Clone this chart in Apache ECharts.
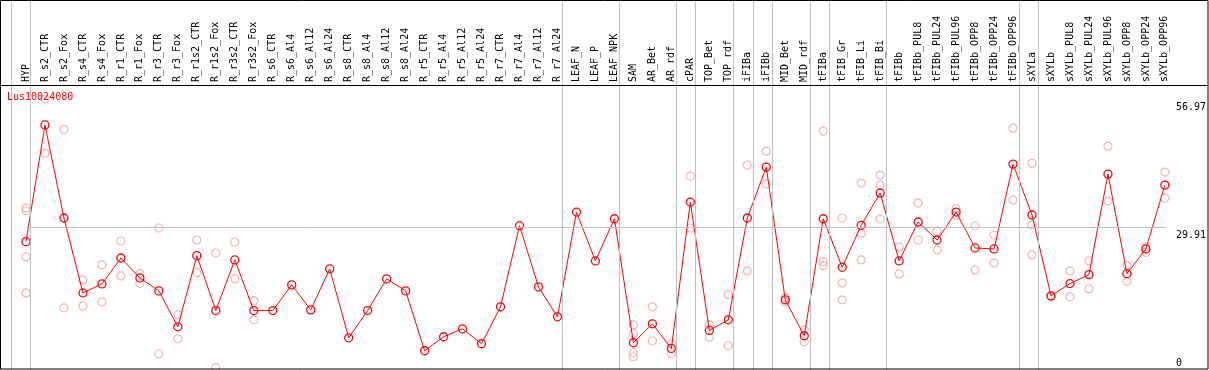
<!DOCTYPE html>
<html>
<head>
<meta charset="utf-8">
<script src="https://cdn.jsdelivr.net/npm/echarts@6/dist/echarts.min.js"></script>
<style>
  html, body { margin: 0; padding: 0; background: #fff; }
  #chart { width: 1209px; height: 370px; }
</style>
</head>
<body>
<div id="chart"></div>
<script>
// ---------------- DATA ----------------
const geneName = 'Lus10024080';
const categories = ['HYP','R_s2_CTR','R_s2_Fox','R_s4_CTR','R_s4_Fox','R_r1_CTR','R_r1_Fox','R_r3_CTR','R_r3_Fox',
  'R_r1s2_CTR','R_r1s2_Fox','R_r3s2_CTR','R_r3s2_Fox','R_s6_CTR','R_s6_Al4','R_s6_Al12','R_s6_Al24','R_s8_CTR',
  'R_s8_Al4','R_s8_Al12','R_s8_Al24','R_r5_CTR','R_r5_Al4','R_r5_Al12','R_r5_Al24','R_r7_CTR','R_r7_Al4',
  'R_r7_Al12','R_r7_Al24','LEAF_N','LEAF_P','LEAF_NPK','SAM','AR_Bet','AR_rdf','cPAR','TOP_Bet','TOP_rdf',
  'iFIBa','iFIBb','MID_Bet','MID_rdf','tFIBa','tFIB_Gr','tFIB_Li','tFIB_Bi','tFIBb','tFIBb_PUL8','tFIBb_PUL24',
  'tFIBb_PUL96','tFIBb_OPP8','tFIBb_OPP24','tFIBb_OPP96','sXYLa','sXYLb','sXYLb_PUL8','sXYLb_PUL24',
  'sXYLb_PUL96','sXYLb_OPP8','sXYLb_OPP24','sXYLb_OPP96'];

const meanValues = [26.98, 51.52, 31.95, 16.2, 18.1, 23.55, 19.36, 16.63, 9.08, 24.04,
  12.5, 23.14, 12.5, 12.5, 17.89, 12.64, 21.24, 6.77, 12.5, 19.15,
  16.63, 4.05, 6.99, 8.66, 5.52, 13.28, 30.33, 17.47, 11.18, 33.2,
  22.93, 31.8, 5.73, 9.71, 4.53, 35.3, 8.31, 10.55, 31.95, 42.65,
  14.75, 7.2, 31.8, 21.59, 30.4, 37.19, 22.93, 31.11, 27.33, 33.2,
  25.66, 25.45, 43.28, 32.58, 15.59, 18.17, 20.05, 41.18, 20.26, 25.45, 38.87];

const replicateValues = [
  [34.05, 33.48, 23.77, 16.2], [56.97, 45.58], [50.6, 13.07], [18.94, 13.48], [22.09, 14.32],
  [27.12, 19.78], [20.33, 18.23], [29.85, 3.42], [11.66, 6.57], [27.33, 20.47],
  [24.6, 0.48], [26.91, 19.2], [14.6, 10.55], [], [],
  [], [], [], [], [],
  [], [], [], [], [],
  [], [], [], [], [],
  [], [], [9.5, 7.68, 3.63, 2.79], [13.28, 6.15], [5.52, 3.42],
  [40.76, 29.85], [9.5, 6.9], [15.86, 5.1], [43.07, 20.83], [46.0, 39.14],
  [15.23, 14.32], [8.37, 5.94], [50.2, 22.78, 21.94], [31.95, 18.31, 14.75], [39.29, 28.72, 23.14],
  [40.97, 38.87, 31.74], [25.87, 20.2], [35.1, 27.33], [29.22, 25.24], [33.9, 32.5],
  [30.27, 21.04], [28.38, 22.51], [50.83, 35.72], [43.49, 30.48, 24.19], [15.38],
  [20.83, 15.38], [22.93, 17.05], [47.05, 35.51], [22.0, 18.65], [25.93, 24.73],
  [41.6, 36.14]
];

// indices of the last category of each group (-1 = before first)
const groupEnds = [-1, 0, 28, 31, 34, 35, 37, 38, 39, 41, 42, 45, 52, 53, 60];
const yMax = 56.97;
const yMid = 29.91;
const yTickLabels = [0, 29.91, 56.97];

// ---------------- CHART ----------------
const scatterData = [];
replicateValues.forEach((arr, i) => arr.forEach(v => scatterData.push([categories[i], v])));

const FONT = 'DejaVu Sans Mono';
const sepOffset = 0.226;

const chart = echarts.init(document.getElementById('chart'), null, { renderer: 'canvas' });
chart.setOption({
  animation: false,
  backgroundColor: '#ffffff',
  title: {
    text: geneName, left: 7, top: 92, padding: 0,
    textStyle: { color: '#ff0000', fontSize: 10, fontWeight: 'normal', fontFamily: FONT }
  },
  grid: [
    { left: 26, right: 42.4, top: 99, bottom: 0 },
    { left: 7, right: 42.4, top: 0, bottom: 0 }
  ],
  xAxis: [
    {
      type: 'category', gridIndex: 0, data: categories, boundaryGap: false,
      position: 'top', offset: 14,
      axisLine: { show: false },
      axisTick: { show: false },
      axisLabel: { rotate: 90, interval: 0, margin: 3, fontSize: 10, fontFamily: FONT, color: '#000' },
      splitLine: { show: false }
    },
    {
      type: 'value', gridIndex: 1, min: -1, max: 60, show: false
    }
  ],
  yAxis: [
    {
      type: 'value', gridIndex: 0, position: 'right', min: 0, max: yMax,
      axisLine: { show: false }, axisTick: { show: false }, splitLine: { show: false },
      axisLabel: {
        customValues: yTickLabels, margin: 11, fontSize: 10, fontFamily: FONT, color: '#000',
        verticalAlign: 'top', verticalAlignMinLabel: 'bottom', verticalAlignMaxLabel: 'top',
        padding: [3, 0, 2, 0],
        formatter: v => String(v)
      }
    },
    { type: 'value', gridIndex: 1, min: 0, max: 1, show: false }
  ],
  series: [
    {
      type: 'line', xAxisIndex: 1, yAxisIndex: 1, data: [], silent: true,
      markLine: {
        symbol: 'none', silent: true, label: { show: false },
        lineStyle: { color: '#c0c0c0', width: 1, type: 'solid' },
        data: groupEnds.map(g => ({ xAxis: g + sepOffset }))
      }
    },
    {
      type: 'line', xAxisIndex: 0, yAxisIndex: 0, data: [], silent: true,
      markLine: {
        symbol: 'none', silent: true, label: { show: false },
        lineStyle: { color: '#c0c0c0', width: 1, type: 'solid' },
        data: [{ yAxis: yMid }]
      }
    },
    {
      type: 'scatter', xAxisIndex: 0, yAxisIndex: 0, data: scatterData,
      symbol: 'circle', symbolSize: 8,
      itemStyle: { color: 'rgba(0,0,0,0)', borderColor: '#f0a0a0', borderWidth: 1.2 }
    },
    {
      type: 'line', xAxisIndex: 0, yAxisIndex: 0, data: meanValues,
      symbol: 'circle', symbolSize: 8, showAllSymbol: true,
      lineStyle: { color: '#ff0000', width: 1 },
      itemStyle: { color: 'rgba(0,0,0,0)', borderColor: '#ff0000', borderWidth: 1.3 }
    }
  ],
  graphic: [
    { type: 'rect', shape: { x: 0.5, y: 0.5, width: 1207.5, height: 368.5 },
      style: { fill: null, stroke: '#000', lineWidth: 1 }, z: 100 },
    { type: 'line', shape: { x1: 0, y1: 85.5, x2: 1208, y2: 85.5 },
      style: { stroke: '#000', lineWidth: 1 }, z: 100 }
  ]
});
</script>
</body>
</html>
